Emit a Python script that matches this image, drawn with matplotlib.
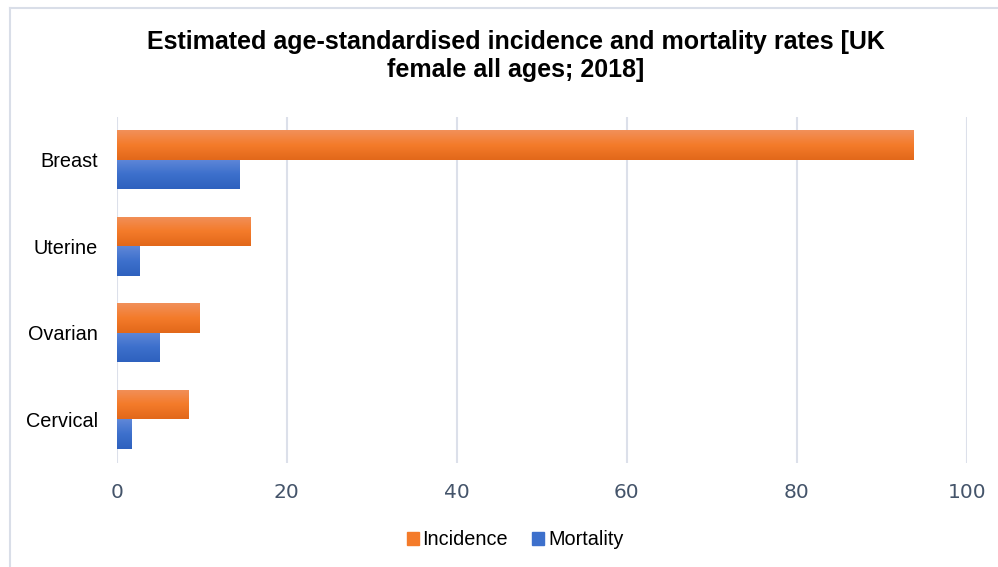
import numpy as np
import matplotlib
matplotlib.use("Agg")
import matplotlib.pyplot as plt
from matplotlib.colors import LinearSegmentedColormap
from matplotlib.lines import Line2D
from matplotlib.patches import Rectangle

# Age-standardised rates per 100,000 (UK, female, 2018)
categories = ["Breast", "Uterine", "Ovarian", "Cervical"]
incidence = [93.7, 15.7, 9.7, 8.4]
mortality = [14.4, 2.6, 5.0, 1.7]
x_ticks = [0, 20, 40, 60, 80, 100]

title_lines = ["Estimated age-standardised incidence and mortality rates [UK",
               "female all ages; 2018]"]

fig = plt.figure(figsize=(9.98, 5.67), dpi=100)
ax = fig.add_axes([0.1169, 0.1843, 0.8517, 0.6102])

orange_cmap = LinearSegmentedColormap.from_list("og", ["#F1905A", "#F47B2A", "#E2681A"])
blue_cmap = LinearSegmentedColormap.from_list("bl", ["#5F87D8", "#3D70CC", "#2E61BE"])

y = np.arange(len(categories))
h = 0.34
bars_inc = ax.barh(y - h / 2, incidence, height=h, color="#F47B2A", zorder=2)
bars_mor = ax.barh(y + h / 2, mortality, height=h, color="#3D70CC", zorder=2)

grad = np.linspace(0, 1, 64).reshape(-1, 1)
for bars, cmap in ((bars_inc, orange_cmap), (bars_mor, blue_cmap)):
    for b in bars:
        x0, y0 = b.get_x(), b.get_y()
        w, hh = b.get_width(), b.get_height()
        im = ax.imshow(grad, cmap=cmap, aspect="auto",
                       extent=(x0, x0 + w, y0 + hh, y0), origin="upper",
                       zorder=3, interpolation="bilinear")
        im.set_clip_path(b)

ax.set_xlim(0, 100)
ax.set_ylim(len(categories) - 0.5, -0.5)
ax.set_xticks(x_ticks)
ax.set_xticklabels([str(t) for t in x_ticks], fontsize=14.5,
                   family=["Liberation Sans Narrow", "DejaVu Sans"], color="#44546A")
ax.set_yticks(y)
ax.set_yticklabels(categories, fontsize=14.3, family="Liberation Sans", color="#000000")
ax.tick_params(axis="x", length=0, pad=15)
ax.tick_params(axis="y", length=0, pad=13.5)
ax.grid(axis="x", color="#DCE0EA", linewidth=1.5, zorder=0)
ax.set_axisbelow(True)
for s in ax.spines.values():
    s.set_visible(False)

for i, line in enumerate(title_lines):
    fig.text(0.517, 1 - (49 + 28 * i) / 567, line, ha="center", va="baseline",
             fontsize=18, fontweight="bold", family="Liberation Sans")

# legend
handles = [Rectangle((0, 0), 1, 1, color="#F47B2A"), Rectangle((0, 0), 1, 1, color="#3D70CC")]
fig.legend(handles, ["Incidence", "Mortality"], loc="center", bbox_to_anchor=(0.516, 0.048),
           ncol=2, frameon=False, handlelength=0.6, handleheight=0.6, handletextpad=0.2,
           columnspacing=1.2, prop={"family": "Liberation Sans", "size": 14.3})

# chart border
fig.add_artist(Line2D([10 / 998, 10 / 998], [0, 1 - 8 / 567], transform=fig.transFigure,
                      color="#D9DEE8", linewidth=1.5))
fig.add_artist(Line2D([10 / 998, 1], [1 - 8 / 567, 1 - 8 / 567], transform=fig.transFigure,
                      color="#D9DEE8", linewidth=1.5))

fig.savefig("out.png", dpi=100)
